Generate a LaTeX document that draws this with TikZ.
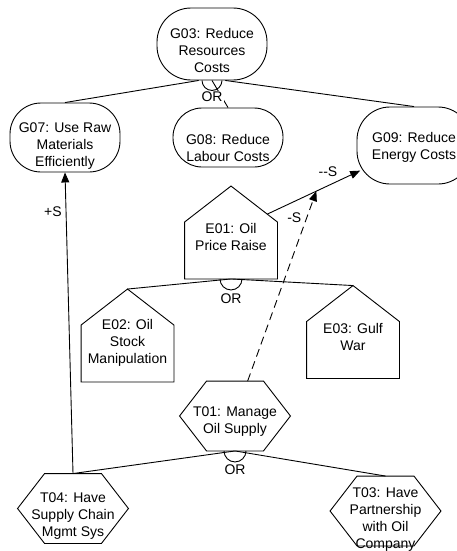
\documentclass[tikz,border=0pt]{standalone}
\usepackage{fontspec}
\setmainfont{Liberation Sans}
\usepackage{tikz}
\usetikzlibrary{calc}
\usetikzlibrary{arrows.meta}
\tikzstyle{every node}=[font=\fontsize{14pt}{17pt}\selectfont, align=center, inner sep=0pt]
\tikzstyle{goal}=[draw, rounded corners=31pt, minimum width=110pt]
\tikzstyle{event}=[minimum width=92pt, minimum height=92pt]
\tikzstyle{task}=[minimum width=110pt, minimum height=69pt]
\tikzstyle{contrib}=[-{Triangle[length=10pt,width=8pt]}]
\tikzstyle{orlabel}=[fill=white, inner sep=1pt]

\begin{document}
\begin{tikzpicture}[x=1pt, y=-1pt, line width=0.9pt]
                \useasboundingbox (0,0) rectangle (457,551);

                \node[goal, rounded corners=34pt, minimum height=72pt, label={[yshift=-6pt]center:{G03: Reduce\\Resources\\Costs}}] (g03) at (212,44) {};
                \node[goal, minimum height=69pt, label={[yshift=-8.5pt]center:{G07: Use Raw\\Materials\\Efficiently}}] (g07) at (65,137.5) {};
                \node[goal, rounded corners=29pt, minimum height=59pt, label={[yshift=-10pt]center:{G08: Reduce\\Labour Costs}}] (g08) at (228,137.5) {};
                \node[goal, rounded corners=33pt, minimum height=77pt, minimum width=114pt, label={[yshift=-1.5pt]center:{G09: Reduce\\Energy Costs}}] (g09) at (414,145.5) {};

                \node[event, label={[yshift=-4.5pt]center:{E01: Oil\\Price Raise}}] (e01) at (231,232.5) {};
                \node[event, label={[yshift=-7.5pt]center:{E02: Oil\\Stock\\Manipulation}}] (e02) at (127.5,335.5) {};
                \node[event, label={[yshift=-5pt]center:{E03: Gulf\\War}}] (e03) at (353,332) {};
                \foreach \n in {e01,e02,e03}
                    \draw (\n.south west) -- ($(\n.north west)+(0,36)$) -- (\n.north) -- ($(\n.north east)+(0,36)$) coordinate (\n-r) -- (\n.south east) -- cycle;

                \node[task, label={[yshift=-5.5pt]center:{T01: Manage\\Oil Supply}}] (t01) at (235,416) {};
                \node[task, label={[yshift=-7.5pt]center:{T04: Have\\Supply Chain\\Mgmt Sys}}] (t04) at (73,508.5) {};
                \node[task, label={[yshift=-9pt]center:{T03: Have\\Partnership\\with Oil\\Company}}] (t03) at (385.5,511) {};
                \foreach \n in {t01,t04,t03}
                    \draw (\n.west) -- ($(\n.north west)+(27,0)$) -- ($(\n.north east)+(-27,0)$) -- (\n.east) -- ($(\n.south east)+(-27,0)$) -- ($(\n.south west)+(27,0)$) -- cycle;

                \draw (g03.250) -- (g07.north);
                \draw (g03.south) -- (g08.north);
                \draw (g03.290) -- (g09.north);
                \draw ($(g03.south)+(-10,0)$) arc[start angle=180, end angle=0, radius=10];
                \node[orlabel] (or1) at (212,97) {OR};

                \draw (e01.south) -- (e02.north);
                \draw (e01.south) -- (e03.north);
                \draw ($(e01.south)+(-11,0)$) arc[start angle=180, end angle=0, radius=11];
                \node[orlabel] (or2) at (231,299) {OR};

                \draw (t01.south) -- (t04.north);
                \draw (t01.south) -- (t03.north);
                \draw ($(t01.south)+(-11,0)$) arc[start angle=180, end angle=0, radius=11];
                \node[orlabel] (or3) at (235,470) {OR};

                \draw[contrib] (t04.north) -- node[pos=0.87, left=4pt] (ls1) {+S} (g07.south);
                \draw[contrib, shorten >=-4pt] ($(e01.north)!0.78!(e01-r)$) -- node[pos=0.68, above=9pt] (ls2) {-{}-S} coordinate[pos=0.55] (m) (g09);
                \draw[contrib, dash pattern=on 8pt off 5pt] (t01) -- node[pos=0.86, left=5pt] (ls3) {-S} (m);
\end{tikzpicture}
\end{document}
